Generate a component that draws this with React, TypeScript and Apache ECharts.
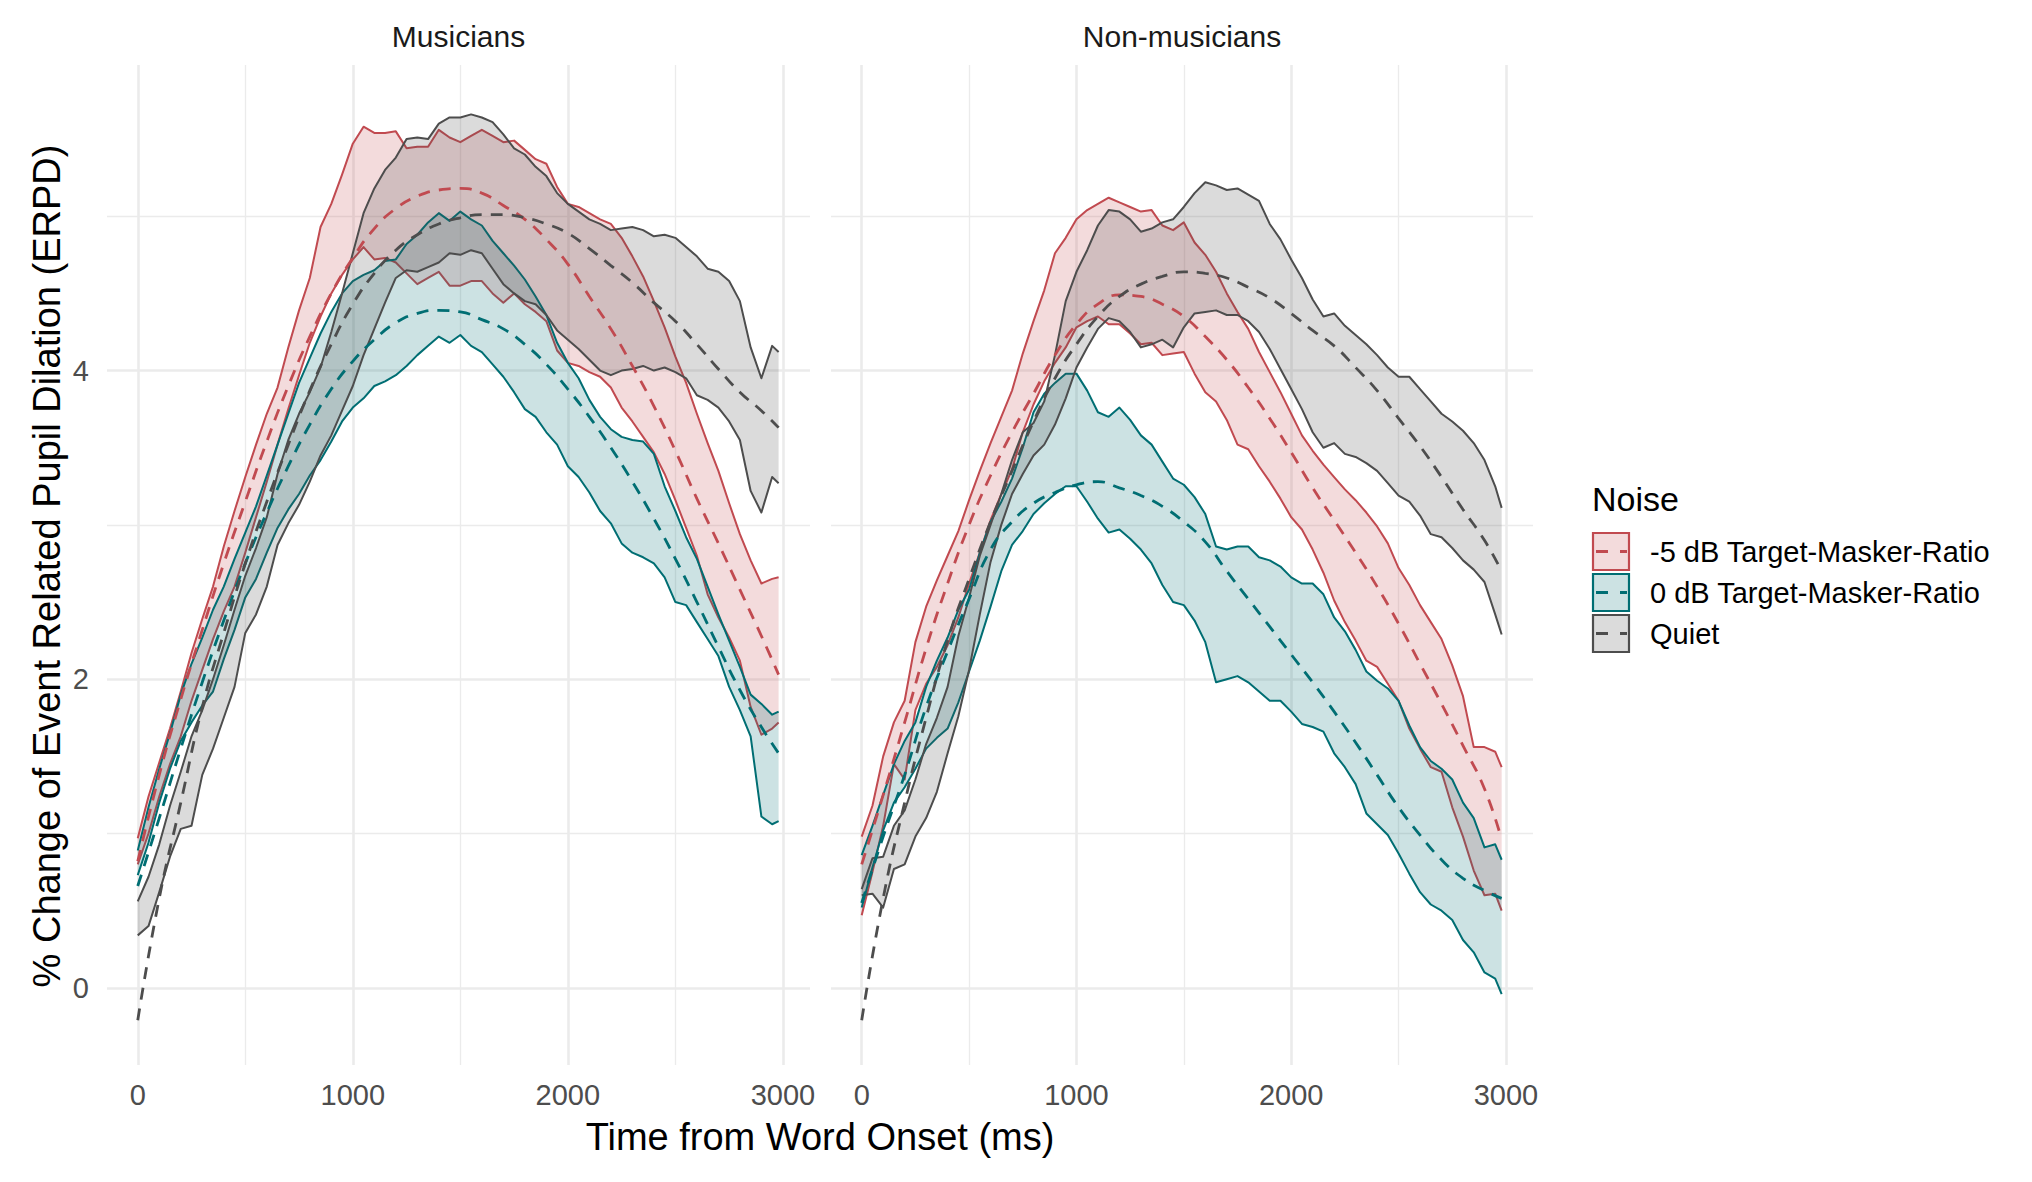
import React, { useEffect, useRef } from 'react';
import * as echarts from 'echarts';

// ---------- sampling grids (ms) ----------
const T50 = [0,50,100,150,200,250,300,350,400,450,500,550,600,650,700,750,800,850,900,950,1000,1050,1100,1150,1200,1250,1300,1350,1400,1450,1500,1550,1600,1650,1700,1750,1800,1850,1900,1950,2000,2050,2100,2150,2200,2250,2300,2350,2400,2450,2500,2550,2600,2650,2700,2750,2800,2850,2900,2950,2980];
const T100 = [0,100,200,300,400,500,600,700,800,900,1000,1100,1200,1300,1400,1500,1600,1700,1800,1900,2000,2100,2200,2300,2400,2500,2600,2700,2800,2900,2980];

// ---------- Musicians ----------
const mRedUpper = [0.97,1.24,1.46,1.68,1.92,2.17,2.39,2.6,2.86,3.09, 3.31,3.52,3.72,3.89,4.15,4.39,4.6,4.93,5.08,5.27, 5.47,5.58,5.54,5.54,5.55,5.44,5.45,5.45,5.56,5.51, 5.48,5.52,5.56,5.52,5.48,5.49,5.43,5.37,5.34,5.19, 5.08,5.06,5.02,4.98,4.95,4.86,4.74,4.61,4.45,4.28, 4.09,3.92,3.72,3.53,3.35,3.14,2.94,2.77,2.62,2.65, 2.66];
const mRedLower = [0.8,1.0,1.24,1.45,1.63,1.86,2.06,2.26,2.44,2.6, 2.82,3.05,3.28,3.52,3.75,3.97,4.18,4.35,4.5,4.62, 4.72,4.8,4.72,4.73,4.7,4.63,4.56,4.6,4.64,4.55, 4.55,4.58,4.58,4.5,4.44,4.5,4.43,4.38,4.32,4.13, 4.05,4.03,3.99,3.96,3.89,3.76,3.67,3.57,3.47,3.33, 3.16,2.98,2.8,2.55,2.4,2.27,2.12,1.82,1.64,1.68, 1.72];
const mTealUpper = [0.89,1.17,1.42,1.65,1.9,2.1,2.27,2.45,2.6,2.78, 2.95,3.12,3.32,3.52,3.72,3.92,4.08,4.24,4.38,4.5, 4.58,4.62,4.65,4.71,4.72,4.82,4.88,4.96,5.02,4.97, 5.03,4.98,4.94,4.84,4.76,4.68,4.59,4.48,4.36,4.18, 4.05,3.95,3.81,3.7,3.62,3.57,3.55,3.54,3.46,3.25, 3.09,2.92,2.78,2.6,2.42,2.25,2.08,1.9,1.84,1.77, 1.79];
const mTealLower = [0.73,0.94,1.2,1.42,1.6,1.72,1.83,1.92,2.13,2.32, 2.53,2.65,2.82,2.98,3.1,3.2,3.32,3.42,3.54,3.67, 3.76,3.82,3.9,3.93,3.97,4.03,4.1,4.16,4.22,4.18, 4.23,4.16,4.12,4.04,3.96,3.86,3.75,3.7,3.6,3.52, 3.38,3.31,3.21,3.09,3.01,2.88,2.82,2.79,2.75,2.66, 2.5,2.48,2.37,2.26,2.15,1.95,1.8,1.63,1.11,1.06, 1.08];
const mQuietUpper = [0.56,0.72,0.93,1.18,1.4,1.63,1.8,2.0,2.22,2.45, 2.67,2.85,3.05,3.33,3.55,3.72,3.86,4.02,4.25,4.5, 4.76,5.02,5.18,5.3,5.38,5.5,5.51,5.5,5.6,5.64, 5.64,5.66,5.64,5.61,5.53,5.44,5.4,5.32,5.26,5.15, 5.08,5.03,4.98,4.95,4.91,4.92,4.93,4.91,4.87,4.88, 4.86,4.8,4.74,4.66,4.64,4.58,4.45,4.15,3.95,4.16, 4.12];
const mQuietLower = [0.34,0.4,0.62,0.85,1.03,1.05,1.38,1.55,1.75,1.95, 2.3,2.42,2.6,2.87,3.01,3.13,3.28,3.45,3.58,3.74, 3.9,4.1,4.27,4.44,4.6,4.65,4.64,4.67,4.7,4.76, 4.75,4.78,4.76,4.66,4.56,4.5,4.45,4.43,4.36,4.26, 4.2,4.14,4.07,4.0,3.97,4.0,4.01,4.03,4.0,4.02, 3.99,3.95,3.84,3.81,3.76,3.67,3.55,3.22,3.08,3.31, 3.27];
const mRedMean = [0.82,1.38,1.87,2.32,2.75,3.15,3.54,3.9,4.22,4.5,4.73,4.92,5.05,5.13,5.17,5.18,5.15,5.07,4.98,4.85,4.69,4.48,4.27,4.03,3.77,3.48,3.17,2.88,2.58,2.28,2.03];
const mTealMean = [0.66,1.1,1.55,1.98,2.38,2.75,3.08,3.38,3.65,3.88,4.06,4.2,4.31,4.37,4.39,4.38,4.33,4.27,4.17,4.04,3.88,3.7,3.5,3.28,3.04,2.78,2.5,2.21,1.93,1.69,1.52];
const mQuietMean = [-0.21,0.58,1.2,1.82,2.3,2.75,3.15,3.52,3.87,4.17,4.43,4.63,4.78,4.88,4.95,4.99,5.01,5.01,4.99,4.95,4.89,4.79,4.68,4.57,4.44,4.32,4.17,4.01,3.86,3.74,3.63];

// ---------- Non-musicians ----------
const nRedUpper = [0.98,1.18,1.5,1.72,1.86,2.24,2.47,2.64,2.8,2.96, 3.16,3.35,3.53,3.7,3.87,4.11,4.32,4.52,4.76,4.86, 4.98,5.04,5.08,5.12,5.09,5.06,5.03,5.04,4.94,4.91, 4.96,4.83,4.75,4.64,4.5,4.38,4.27,4.12,3.99,3.86, 3.72,3.58,3.48,3.39,3.31,3.23,3.16,3.08,2.99,2.88, 2.72,2.61,2.48,2.37,2.26,2.09,1.89,1.56,1.56,1.53, 1.43];
const nRedLower = [0.47,0.75,1.05,1.45,1.35,1.8,1.97,2.08,2.22,2.4, 2.62,2.82,3.03,3.2,3.36,3.6,3.78,3.93,4.05,4.15, 4.28,4.32,4.35,4.3,4.3,4.24,4.17,4.18,4.1,4.11, 4.12,3.98,3.86,3.8,3.68,3.52,3.49,3.38,3.28,3.17, 3.05,2.97,2.84,2.69,2.51,2.37,2.25,2.12,2.08,1.97, 1.86,1.68,1.55,1.43,1.4,1.17,0.98,0.76,0.6,0.61, 0.5];
const nTealUpper = [0.86,1.05,1.25,1.45,1.6,1.72,1.95,2.12,2.27,2.45, 2.58,2.82,3.02,3.15,3.3,3.5,3.73,3.85,3.92,3.98, 3.98,3.87,3.73,3.7,3.76,3.68,3.58,3.52,3.41,3.3, 3.26,3.18,3.07,2.86,2.84,2.86,2.86,2.79,2.77,2.73, 2.66,2.62,2.62,2.55,2.4,2.31,2.19,2.05,1.99,1.94, 1.86,1.7,1.56,1.47,1.42,1.35,1.2,1.1,0.91,0.93, 0.83];
const nTealLower = [0.52,0.78,1.02,1.2,1.3,1.42,1.55,1.62,1.68,1.85, 2.05,2.25,2.47,2.7,2.87,2.96,3.07,3.14,3.2,3.25, 3.25,3.15,3.04,2.95,2.97,2.91,2.84,2.75,2.61,2.5, 2.48,2.38,2.24,1.98,2.0,2.02,1.98,1.92,1.86,1.86, 1.79,1.71,1.69,1.66,1.52,1.43,1.32,1.13,1.06,0.99, 0.87,0.74,0.62,0.54,0.5,0.44,0.31,0.23,0.1,0.06, -0.04];
const nQuietUpper = [0.64,0.84,0.85,1.05,1.15,1.35,1.58,1.75,1.95,2.28, 2.53,2.8,3.0,3.2,3.42,3.6,3.66,3.8,4.1,4.45, 4.64,4.78,4.94,5.04,5.03,4.98,4.9,4.92,4.96,4.98, 5.06,5.15,5.22,5.2,5.17,5.18,5.14,5.1,4.95,4.85, 4.72,4.6,4.46,4.35,4.37,4.29,4.23,4.17,4.1,4.02, 3.96,3.96,3.88,3.8,3.72,3.67,3.61,3.53,3.42,3.25, 3.11];
const nQuietLower = [0.6,0.61,0.52,0.77,0.8,0.98,1.1,1.27,1.52,1.76, 2.06,2.42,2.76,3.0,3.2,3.33,3.45,3.52,3.65,3.82, 4.02,4.15,4.27,4.34,4.32,4.25,4.15,4.17,4.2,4.15, 4.28,4.37,4.38,4.39,4.36,4.36,4.32,4.25,4.14,4.01, 3.88,3.75,3.6,3.5,3.53,3.46,3.44,3.4,3.35,3.27, 3.19,3.15,3.06,2.94,2.92,2.85,2.77,2.71,2.63,2.42, 2.29];
const nRedMean = [0.8,1.25,1.72,2.2,2.62,3.0,3.32,3.6,3.85,4.1,4.3,4.43,4.49,4.48,4.43,4.35,4.22,4.07,3.89,3.69,3.47,3.24,3.03,2.82,2.6,2.36,2.1,1.84,1.57,1.29,0.96];
const nTealMean = [0.55,0.98,1.38,1.82,2.18,2.52,2.84,3.02,3.14,3.21,3.26,3.28,3.24,3.19,3.12,3.02,2.89,2.7,2.52,2.34,2.16,1.98,1.79,1.59,1.38,1.17,0.99,0.83,0.71,0.63,0.58];
const nQuietMean = [-0.21,0.58,1.2,1.75,2.25,2.65,3.02,3.35,3.67,3.95,4.17,4.35,4.48,4.56,4.61,4.64,4.63,4.6,4.54,4.47,4.37,4.26,4.16,4.02,3.87,3.69,3.51,3.31,3.1,2.9,2.7];

// ---------- labels & ticks ----------
const PANELS = ['Musicians', 'Non-musicians'];
const CONDITIONS = ['-5 dB Target-Masker-Ratio', '0 dB Target-Masker-Ratio', 'Quiet'];
const X_MAJOR = [0, 1000, 2000, 3000];
const X_MINOR = [500, 1500, 2500];
const Y_MAJOR = [0, 2, 4];
const Y_MINOR = [1, 3, 5];
const X_TITLE = 'Time from Word Onset (ms)';
const Y_TITLE = '% Change of Event Related Pupil Dilation (ERPD)';
const LEGEND_TITLE = 'Noise';

// ---------- style ----------
const COLORS = ['#C14A50', '#006E73', '#4D4D4D'];
const FONT = '"Liberation Sans", Arial, Helvetica, sans-serif';
const GRID_COLOR = '#EBEBEB';
const X_MIN = -143, X_MAX = 3126, Y_MIN = -0.5, Y_MAX = 5.98;
const GRIDS = [
  { left: 107, top: 65, width: 703, height: 1000 },
  { left: 831, top: 65, width: 702, height: 1000 },
];

function rgba(hex: string, a: number) {
  const r = parseInt(hex.slice(1, 3), 16), g = parseInt(hex.slice(3, 5), 16), b = parseInt(hex.slice(5, 7), 16);
  return `rgba(${r},${g},${b},${a})`;
}

const plainNum = (v: number) => String(v);

function buildOption() {
  const panelData = [
    { bands: [[mRedLower, mRedUpper], [mTealLower, mTealUpper], [mQuietLower, mQuietUpper]], means: [mRedMean, mTealMean, mQuietMean] },
    { bands: [[nRedLower, nRedUpper], [nTealLower, nTealUpper], [nQuietLower, nQuietUpper]], means: [nRedMean, nTealMean, nQuietMean] },
  ];

  const xAxis: any[] = [];
  const yAxis: any[] = [];
  GRIDS.forEach((_, gi) => {
    xAxis.push({
      type: 'value', gridIndex: gi, min: X_MIN, max: X_MAX,
      axisLine: { show: false },
      axisTick: { show: false, customValues: X_MAJOR },
      axisLabel: { customValues: X_MAJOR, formatter: plainNum, fontSize: 29, color: '#4D4D4D', fontFamily: FONT, margin: 15 },
      splitLine: { show: true, lineStyle: { color: GRID_COLOR, width: 2.6 } },
    });
    xAxis.push({
      type: 'value', gridIndex: gi, min: X_MIN, max: X_MAX,
      axisLine: { show: false },
      axisTick: { show: false, customValues: X_MINOR },
      axisLabel: { show: false, customValues: X_MINOR },
      splitLine: { show: true, lineStyle: { color: GRID_COLOR, width: 1.3 } },
    });
    yAxis.push({
      type: 'value', gridIndex: gi, min: Y_MIN, max: Y_MAX,
      axisLine: { show: false },
      axisTick: { show: false, customValues: Y_MAJOR },
      axisLabel: { show: gi === 0, customValues: Y_MAJOR, formatter: plainNum, fontSize: 29, color: '#4D4D4D', fontFamily: FONT, margin: 18 },
      splitLine: { show: true, lineStyle: { color: GRID_COLOR, width: 2.6 } },
    });
    yAxis.push({
      type: 'value', gridIndex: gi, min: Y_MIN, max: Y_MAX,
      axisLine: { show: false },
      axisTick: { show: false, customValues: Y_MINOR },
      axisLabel: { show: false, customValues: Y_MINOR },
      splitLine: { show: true, lineStyle: { color: GRID_COLOR, width: 1.3 } },
    });
  });

  const series: any[] = [];
  panelData.forEach((pd, gi) => {
    pd.bands.forEach(([lo, up], k) => {
      const c = COLORS[k];
      series.push({
        type: 'custom', name: CONDITIONS[k], xAxisIndex: gi * 2, yAxisIndex: gi * 2,
        data: [[T50[0], lo[0]]], encode: { x: 0, y: 1 }, silent: true, z: 2, clip: true,
        renderItem: (params: any, api: any) => {
          const upPts = T50.map((t, i) => api.coord([t, up[i]]));
          const loPts = T50.map((t, i) => api.coord([t, lo[i]]));
          return {
            type: 'group',
            children: [
              { type: 'polygon', shape: { points: upPts.concat(loPts.slice().reverse()) }, style: { fill: rgba(c, 0.2), stroke: null } },
              { type: 'polyline', shape: { points: upPts }, style: { stroke: c, lineWidth: 2, fill: null, lineJoin: 'round' } },
              { type: 'polyline', shape: { points: loPts }, style: { stroke: c, lineWidth: 2, fill: null, lineJoin: 'round' } },
            ],
          };
        },
      });
    });
    pd.means.forEach((m, k) => {
      series.push({
        type: 'line', name: CONDITIONS[k], xAxisIndex: gi * 2, yAxisIndex: gi * 2,
        data: T100.map((t, i) => [t, m[i]]), smooth: true, symbol: 'none', showSymbol: false,
        silent: true, z: 3, clip: true,
        lineStyle: { color: COLORS[k], width: 2.8, type: [12, 9] },
      });
    });
  });

  const graphic: any[] = [];
  PANELS.forEach((p, gi) => {
    graphic.push({
      type: 'text', x: GRIDS[gi].left + GRIDS[gi].width / 2, y: 36, silent: true,
      style: { text: p, fontSize: 30, fontFamily: FONT, fill: '#1A1A1A', align: 'center', verticalAlign: 'middle' },
    });
  });
  graphic.push({
    type: 'text', x: 820, y: 1137, silent: true,
    style: { text: X_TITLE, fontSize: 38, fontFamily: FONT, fill: '#000', align: 'center', verticalAlign: 'middle' },
  });
  graphic.push({
    type: 'text', x: 47, y: 566, rotation: Math.PI / 2, silent: true,
    style: { text: Y_TITLE, fontSize: 38, fontFamily: FONT, fill: '#000', align: 'center', verticalAlign: 'middle' },
  });
  graphic.push({
    type: 'text', x: 1592, y: 499, silent: true,
    style: { text: LEGEND_TITLE, fontSize: 34, fontFamily: FONT, fill: '#000', align: 'left', verticalAlign: 'middle' },
  });
  CONDITIONS.forEach((name, k) => {
    const top = 533 + k * 41;
    const c = COLORS[k];
    graphic.push({
      type: 'rect', x: 1593, y: top, silent: true,
      shape: { width: 36, height: 37 },
      style: { fill: rgba(c, 0.2), stroke: c, lineWidth: 2.2 },
    });
    graphic.push({
      type: 'line', silent: true,
      shape: { x1: 1596, y1: top + 18.5, x2: 1627, y2: top + 18.5 },
      style: { stroke: c, lineWidth: 2.8, lineDash: [12, 12] },
    });
    graphic.push({
      type: 'text', x: 1650, y: top + 18.5, silent: true,
      style: { text: name, fontSize: 29, fontFamily: FONT, fill: '#000', align: 'left', verticalAlign: 'middle' },
    });
  });

  return {
    animation: false,
    backgroundColor: '#FFFFFF',
    textStyle: { fontFamily: FONT },
    grid: GRIDS.map(g => ({ ...g, containLabel: false, outerBoundsMode: 'none' })),
    xAxis,
    yAxis,
    series,
    graphic,
  };
}

export default function App() {
  const ref = useRef<HTMLDivElement>(null);
  useEffect(() => {
    if (!ref.current) return;
    const chart = echarts.init(ref.current, undefined, { renderer: 'svg' });
    chart.setOption(buildOption() as any);
    return () => chart.dispose();
  }, []);
  return (
    <div
      ref={ref}
      style={{ position: 'fixed', left: 0, top: 0, width: 2032, height: 1182, background: '#FFFFFF' }}
    />
  );
}
